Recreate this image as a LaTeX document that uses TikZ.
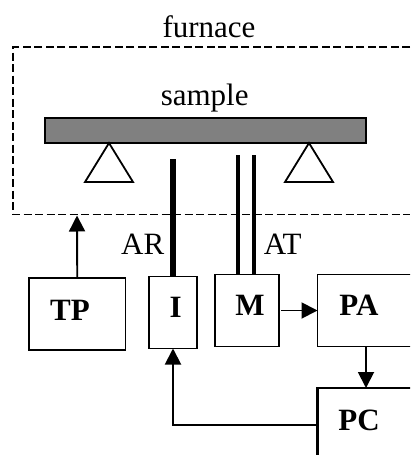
\documentclass[tikz,border=0pt]{standalone}
\usepackage{fontspec}
\setmainfont{Liberation Serif}
\usetikzlibrary{arrows.meta}
\tikzset{
  box/.style={draw=black,line width=1.9pt,fill=white,inner sep=0pt,outer sep=0pt},
  lbl/.style={anchor=base,inner sep=0pt,font=\fontsize{31}{31}\selectfont},
  blbl/.style={lbl,font=\fontsize{31}{31}\selectfont\bfseries},
  conn/.style={draw=black,line width=1.9pt,-{Triangle[length=16pt,width=16pt]}},
  furn/.style={draw=black,line width=1.8pt,dash pattern=on 8pt off 3.5pt},
  supp/.style={draw=black,line width=1.8pt,fill=white,line join=miter},
}
\begin{document}
\begin{tikzpicture}[x=1pt,y=-1pt]
\useasboundingbox (0,0) rectangle (410,455);
\fill[white] (0,0) rectangle (410,455);
\clip (0,0) rectangle (410,455);
% furnace
\draw[furn] (410,47) -- (13,47) -- (13,214.5) -- (410,214.5);
% sample
\node[draw=black,line width=1.9pt,fill=black!50,inner sep=0pt,minimum width=321pt,minimum height=25pt] (sample) at (205.5,130.5) {};
\coordinate (s1) at (109,143);
\coordinate (s2) at (309,143);
\draw[supp] (s1) -- ++(-24,39) -- ++(48,0) -- cycle;
\draw[supp] (s2) -- ++(-24,39) -- ++(48,0) -- cycle;
% boxes
\node[box,minimum width=96.5pt,minimum height=72pt] (TP) at (77.25,314) {};
\node[box,minimum width=48pt,minimum height=72pt] (I) at (173,312.5) {};
\node[box,minimum width=64pt,minimum height=72pt] (M) at (247,310.5) {};
\node[box,minimum width=97pt,minimum height=72pt] (PA) at (366,310.5) {};
\node[box,line width=2.4pt,minimum width=97pt,minimum height=74pt] (PC) at (366,425) {};
% probes
\coordinate (ar) at (173,159);
\coordinate (at1) at (237.5,155);
\coordinate (at2) at (253.5,155);
\draw[line width=6pt] (ar) -- (I.north);
\draw[line width=4pt] (at1) -- (at1 |- M.north);
\draw[line width=4pt] (at2) -- (at2 |- M.north);
% connectors
\coordinate (fb) at (77,215.5);
\draw[conn] (TP.north) -- (fb);
\draw[conn,shorten <=2pt] (M.east) -- (PA.west);
\draw[conn] (PA.south) -- (PC.north);
\draw[conn] (PC.west) -| (I.south);
% labels
\node[lbl] (tf) at (209,37.7) {furnace};
\node[lbl] (ts) at (204.7,105) {sample};
\node[lbl] (tar) at (142.7,254) {AR};
\node[lbl] (tat) at (282.7,254) {AT};
\node[blbl] (ttp) at (70,320) {TP};
\node[blbl] (ti) at (175.7,317.7) {I};
\node[blbl] (tm) at (250,315.7) {M};
\node[blbl] (tpa) at (359,315.7) {PA};
\node[blbl] (tpc) at (359,430) {PC};
\end{tikzpicture}
\end{document}
